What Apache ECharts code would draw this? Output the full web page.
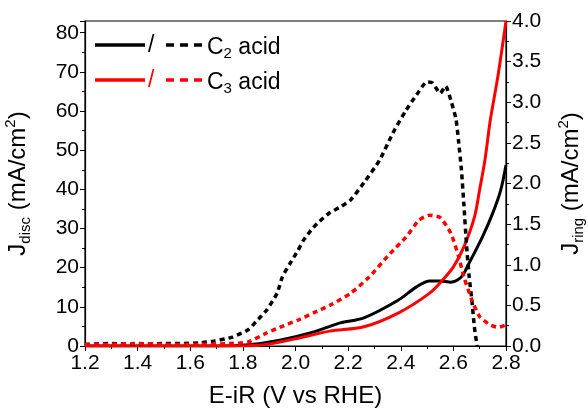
<!DOCTYPE html>
<html>
<head>
<meta charset="utf-8">
<script src="https://cdn.jsdelivr.net/npm/echarts@6/dist/echarts.min.js"></script>
<style>
  html, body { margin: 0; padding: 0; background: #fff; }
  #main { width: 588px; height: 408px; }
</style>
</head>
<body>
<div id="main"></div>
<script>
// 数据
var xTicks = [1.2, 1.4, 1.6, 1.8, 2.0, 2.2, 2.4, 2.6, 2.8];

// C2 acid, disc (左轴 mA/cm2)
var discC2V = [1.20, 1.50, 1.71, 1.82, 1.94, 2.07, 2.17, 2.26, 2.39, 2.46, 2.51, 2.55, 2.59, 2.63, 2.66, 2.71, 2.75, 2.78, 2.80];
var discC2J = [0.0, 0.0, 0.0, 0.3, 1.5, 3.6, 5.9, 7.2, 11.7, 15.1, 16.6, 16.6, 16.3, 17.6, 21.2, 27.8, 34.0, 39.8, 46.2];

// C2 acid, ring (右轴 mA/cm2)
var ringC2V = [1.20, 1.30, 1.40, 1.50, 1.56, 1.64, 1.69, 1.76, 1.82, 1.85, 1.89, 1.93, 1.95, 1.98, 2.01, 2.03, 2.06, 2.09, 2.13, 2.17, 2.21, 2.26, 2.32, 2.37, 2.42, 2.46, 2.50, 2.52, 2.55, 2.57, 2.59, 2.61, 2.62, 2.63, 2.64, 2.65, 2.66, 2.67, 2.68, 2.69];
var ringC2J = [0.02, 0.03, 0.02, 0.03, 0.03, 0.04, 0.06, 0.11, 0.20, 0.30, 0.44, 0.65, 0.85, 1.02, 1.18, 1.30, 1.43, 1.53, 1.64, 1.71, 1.80, 2.01, 2.29, 2.62, 2.90, 3.09, 3.25, 3.24, 3.11, 3.20, 3.03, 2.79, 2.51, 2.19, 1.74, 1.24, 0.85, 0.57, 0.23, 0.00];

// C3 acid, disc
var discC3V = [1.20, 1.55, 1.79, 1.88, 2.01, 2.13, 2.26, 2.39, 2.51, 2.56, 2.60, 2.64, 2.68, 2.70, 2.72, 2.74, 2.77, 2.80];
var discC3J = [0.0, 0.0, 0.0, 0.3, 2.0, 3.8, 4.9, 8.4, 13.5, 16.9, 20.2, 25.3, 32.9, 40.0, 47.5, 57.5, 69.2, 83.0];

// C3 acid, ring
var ringC3V = [1.20, 1.30, 1.40, 1.50, 1.64, 1.75, 1.82, 1.89, 1.94, 2.01, 2.07, 2.13, 2.21, 2.28, 2.36, 2.42, 2.47, 2.51, 2.55, 2.59, 2.62, 2.64, 2.67, 2.70, 2.74, 2.77, 2.80];
var ringC3J = [0.02, 0.02, 0.03, 0.02, 0.02, 0.03, 0.05, 0.16, 0.23, 0.32, 0.41, 0.50, 0.65, 0.85, 1.14, 1.34, 1.55, 1.61, 1.58, 1.39, 1.10, 0.85, 0.57, 0.36, 0.26, 0.23, 0.26];

function pairs(xs, ys) {
    var out = [];
    for (var i = 0; i < xs.length; i++) out.push([xs[i], ys[i]]);
    return out;
}

var FONT = 'Liberation Sans';
var nameRich = {
    b: { fontFamily: FONT, fontSize: 24, color: '#000', lineHeight: 30 },
    s: { fontFamily: FONT, fontSize: 15, color: '#000', lineHeight: 15, verticalAlign: 'bottom' },
    p: { fontFamily: FONT, fontSize: 15, color: '#000', lineHeight: 15, verticalAlign: 'top' }
};
var legRich = {
    a: { fontFamily: FONT, fontSize: 23, color: '#000', lineHeight: 26 },
    s: { fontFamily: FONT, fontSize: 15, color: '#000', lineHeight: 15, verticalAlign: 'bottom' }
};

var myChart = echarts.init(document.getElementById('main'));
myChart.setOption({
    animation: false,
    grid: { left: 85, right: 82, top: 21, bottom: 62, outerBoundsMode: 'none', show: true, borderColor: '#000', borderWidth: 1.2, backgroundColor: 'transparent' },
    xAxis: {
        type: 'value', min: xTicks[0], max: xTicks[xTicks.length - 1], interval: 0.2,
        name: 'E-iR (V vs RHE)', nameLocation: 'middle', nameGap: 38,
        nameTextStyle: { fontFamily: FONT, fontSize: 24, color: '#000' },
        axisLine: { lineStyle: { color: '#000', width: 1.2 } },
        axisTick: { length: 5, lineStyle: { color: '#000' } },
        minorTick: { show: true, splitNumber: 2, length: 3, lineStyle: { color: '#000' } },
        splitLine: { show: false },
        axisLabel: { fontFamily: FONT, fontSize: 21, color: '#000', margin: 7, formatter: function (v) { return v.toFixed(1); } }
    },
    yAxis: [{
        type: 'value', min: 0, max: 83, interval: 10,
        name: '{b|J}{s|disc}{b| (mA/cm}{p|2}{b|)}', nameLocation: 'middle', nameGap: 52, nameRotate: 90,
        nameTextStyle: { rich: nameRich },
        axisLine: { show: true, lineStyle: { color: '#000', width: 1.2 } },
        axisTick: { show: true, length: 5, lineStyle: { color: '#000' } },
        minorTick: { show: true, splitNumber: 2, length: 3, lineStyle: { color: '#000' } },
        splitLine: { show: false },
        axisLabel: { fontFamily: FONT, fontSize: 21, color: '#000', margin: 6, showMaxLabel: false }
    }, {
        type: 'value', min: 0, max: 4, interval: 0.5, position: 'right',
        name: '{b|J}{s|ring}{b| (mA/cm}{p|2}{b|)}', nameLocation: 'middle', nameGap: 50, nameRotate: 90,
        nameTextStyle: { rich: nameRich },
        axisLine: { show: true, lineStyle: { color: '#000', width: 1.2 } },
        axisTick: { show: true, length: 5, lineStyle: { color: '#000' } },
        minorTick: { show: true, splitNumber: 2, length: 3, lineStyle: { color: '#000' } },
        splitLine: { show: false },
        axisLabel: { fontFamily: FONT, fontSize: 21, color: '#000', margin: 6, formatter: function (v) { return v.toFixed(1); } }
    }],
    series: [
        { name: 'C2 disc', type: 'line', yAxisIndex: 0, data: pairs(discC2V, discC2J), showSymbol: false, smooth: 0.3,
          lineStyle: { color: '#000', width: 3 } },
        { name: 'C3 disc', type: 'line', yAxisIndex: 0, data: pairs(discC3V, discC3J), showSymbol: false, smooth: 0.3,
          lineStyle: { color: '#ff0000', width: 3 } },
        { name: 'C2 ring', type: 'line', yAxisIndex: 1, data: pairs(ringC2V, ringC2J), showSymbol: false, smooth: 0.2,
          lineStyle: { color: '#000', width: 3.5, type: [5, 4] } },
        { name: 'C3 ring', type: 'line', yAxisIndex: 1, data: pairs(ringC3V, ringC3J), showSymbol: false, smooth: 0.2,
          lineStyle: { color: '#ff0000', width: 3.5, type: [5, 4] } }
    ],
    graphic: [
        { type: 'line', shape: { x1: 95, y1: 45, x2: 145, y2: 45 }, style: { stroke: '#000', lineWidth: 3.5 } },
        { type: 'text', x: 148, y: 46, style: { text: '/', fontFamily: FONT, fontSize: 23, fill: '#000', verticalAlign: 'middle' } },
        { type: 'line', shape: { x1: 166, y1: 45, x2: 203, y2: 45 }, style: { stroke: '#000', lineWidth: 3.5, lineDash: [8, 6] } },
        { type: 'text', x: 207, y: 48, style: { text: '{a|C}{s|2}{a| acid}', rich: legRich, verticalAlign: 'middle' } },
        { type: 'line', shape: { x1: 95, y1: 80, x2: 145, y2: 80 }, style: { stroke: '#ff0000', lineWidth: 3.5 } },
        { type: 'text', x: 148, y: 81, style: { text: '/', fontFamily: FONT, fontSize: 23, fill: '#ff0000', verticalAlign: 'middle' } },
        { type: 'line', shape: { x1: 166, y1: 80, x2: 203, y2: 80 }, style: { stroke: '#ff0000', lineWidth: 3.5, lineDash: [8, 6] } },
        { type: 'text', x: 207, y: 83, style: { text: '{a|C}{s|3}{a| acid}', rich: legRich, verticalAlign: 'middle' } }
    ]
});
</script>
</body>
</html>
